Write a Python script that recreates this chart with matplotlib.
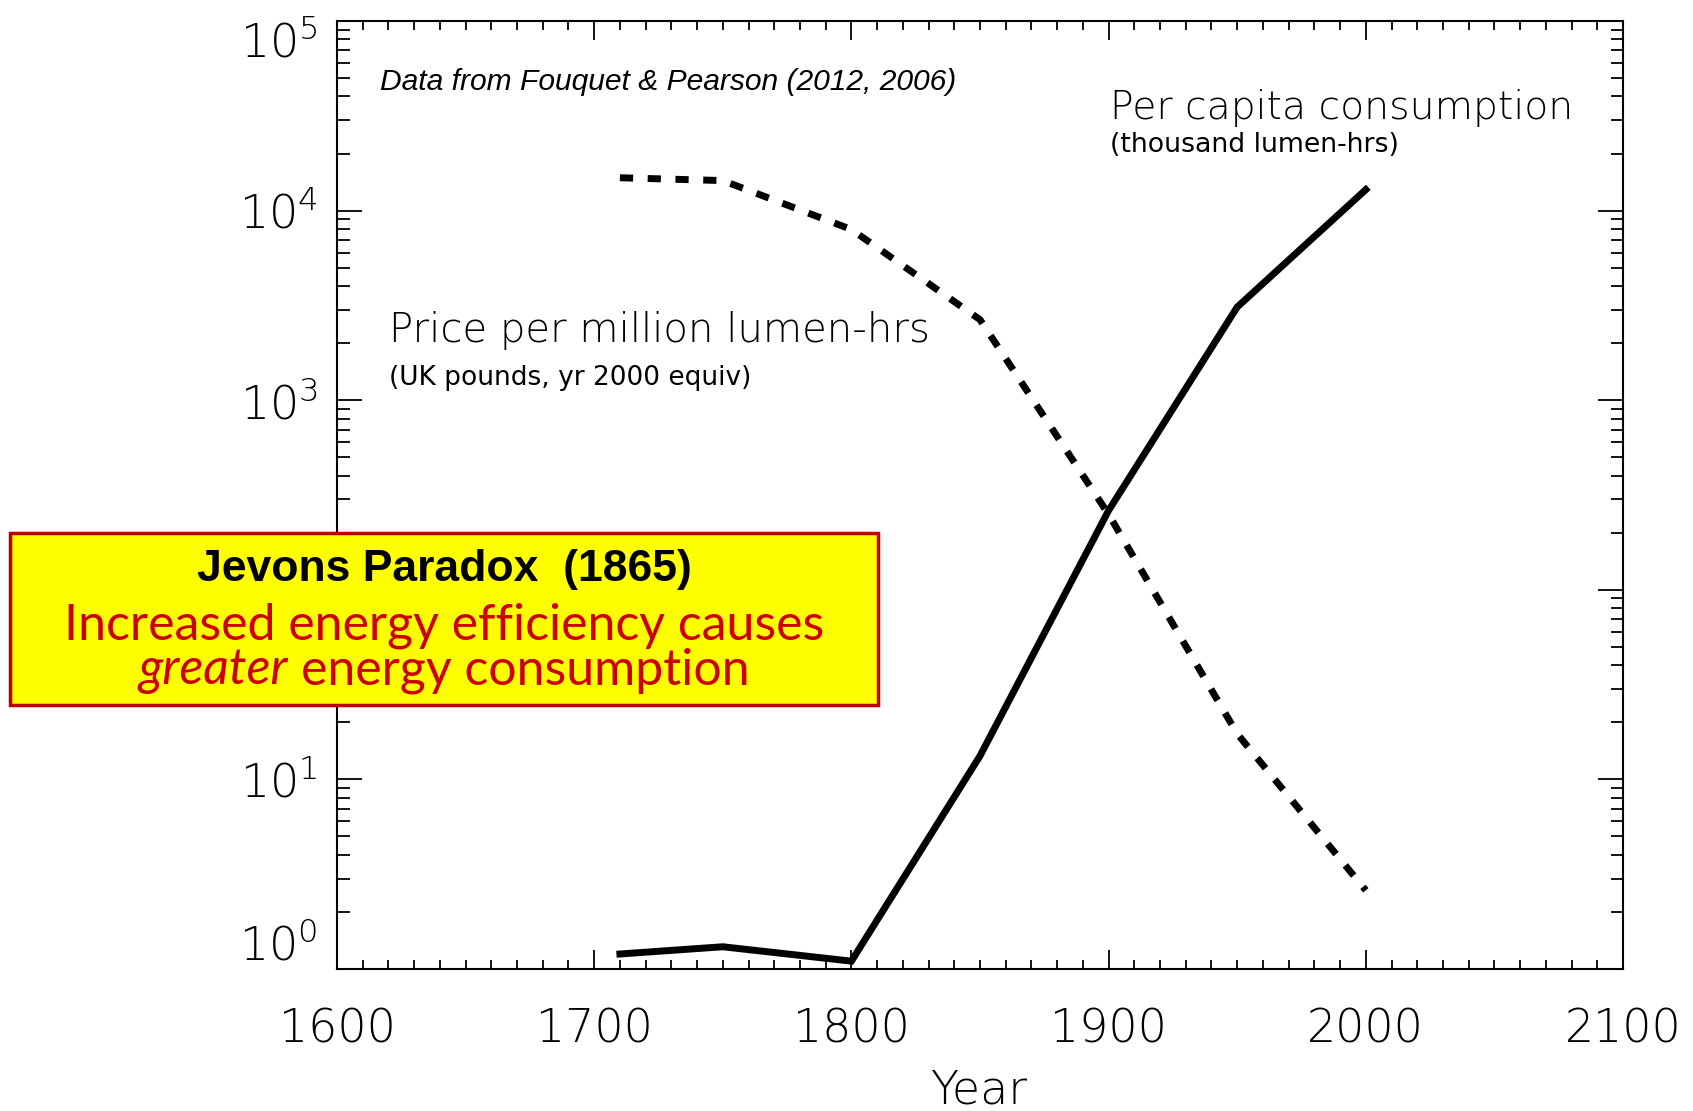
import matplotlib
matplotlib.use("Agg")
import matplotlib.pyplot as plt
import matplotlib.ticker as mticker
from matplotlib.patches import Rectangle
from matplotlib.offsetbox import TextArea, HPacker, AnnotationBbox

# per capita consumption (thousand lumen-hrs)
cons_years = [1710, 1750, 1800, 1850, 1900, 1950, 2000]
cons_values = [1.2, 1.31, 1.1, 13.3, 262, 3100, 12900]

# price per million lumen-hrs (UK pounds, yr 2000 equiv)
price_years = [1710, 1750, 1800, 1850, 1900, 1950, 2000]
price_values = [14900, 14400, 7950, 2660, 250, 17.4, 2.6]

x_ticks = [1600, 1700, 1800, 1900, 2000, 2100]
y_ticks = [1, 10, 100, 1000, 10000, 100000]

W, H = 1693, 1111
fig = plt.figure(figsize=(W / 100, H / 100), dpi=100)
ax = fig.add_axes([337 / W, 1 - 969 / H, (1623 - 337) / W, (969 - 21) / H])

ax.plot(cons_years, cons_values, color="black", lw=5, solid_joinstyle="miter")
ax.plot(price_years, price_values, color="black", lw=5, dashes=(1.9, 2.1))

ax.set_yscale("log")
ax.set_ylim(1, 1e5)
ax.set_xlim(1600, 2100)
ax.set_xticks(x_ticks)
ax.set_yticks(y_ticks)
ax.xaxis.set_minor_locator(mticker.MultipleLocator(10))
ax.yaxis.set_major_formatter(mticker.LogFormatterMathtext())

for s in ax.spines.values():
    s.set_linewidth(1.5)
ax.tick_params(which="both", direction="in", top=True, right=True, width=1.3)
ax.tick_params(axis="x", which="major", length=13.5, pad=28, labelsize=33)
ax.tick_params(axis="x", which="minor", length=6.5)
ax.tick_params(axis="y", which="major", length=18, pad=14, labelsize=33)
ax.tick_params(axis="y", which="minor", length=9)
for lab in ax.get_xticklabels() + ax.get_yticklabels():
    lab.set_fontweight("light")
yt = ax.yaxis.get_major_ticks()
yt[0].label1.set_va("bottom")
yt[-1].label1.set_va("top")
ax.set_xlabel("Year", fontsize=33, labelpad=12, fontweight="light")


def fx(x):
    return x / W


def fy(y):
    return 1 - y / H


fig.text(fx(380), fy(82), "Data from Fouquet & Pearson (2012, 2006)",
         family="Liberation Sans", style="italic", fontsize=21.6, va="center")
fig.text(fx(1110), fy(108), "Per capita consumption", fontsize=28.3,
         va="center", fontweight="light")
fig.text(fx(1110), fy(145), "(thousand lumen-hrs)", fontsize=19.3, va="center")
fig.text(fx(389), fy(331), "Price per million lumen-hrs", fontsize=29,
         va="center", fontweight="light")
fig.text(fx(389), fy(378), "(UK pounds, yr 2000 equiv)", fontsize=19, va="center")

# Jevons box
box = Rectangle((fx(10), fy(705)), (878 - 10) / W, (705 - 533) / H,
                transform=fig.transFigure, facecolor="#FFFF00",
                edgecolor="#C00000", lw=2.5, zorder=5)
fig.add_artist(box)

fig.text(fx(444), fy(569), "Jevons Paradox  (1865)", family="Liberation Sans",
         fontweight="bold", fontsize=32, ha="center", va="center", zorder=6)
red = "#CC0000"
fig.text(fx(444), fy(626), "Increased energy efficiency causes", family="Lato",
         color=red, fontsize=36, ha="center", va="center", zorder=6)
line2 = HPacker(children=[
    TextArea("greater", textprops=dict(family="Lato", style="italic", color=red, fontsize=36)),
    TextArea("energy consumption", textprops=dict(family="Lato", color=red, fontsize=36)),
], sep=9, pad=0, align="baseline")
ab = AnnotationBbox(line2, (fx(444), fy(671)), xycoords="figure fraction",
                    frameon=False, box_alignment=(0.5, 0.5), zorder=6)
fig.add_artist(ab)

fig.savefig("out.png", dpi=100)
